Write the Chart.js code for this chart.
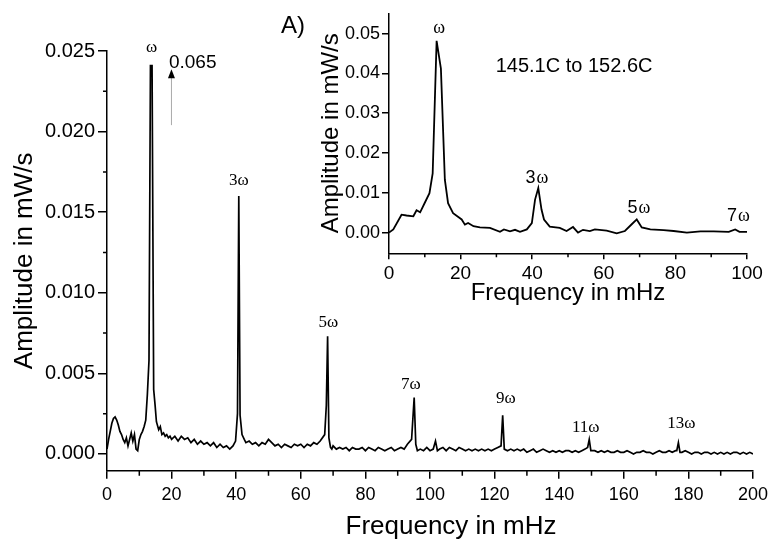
<!DOCTYPE html>
<html>
<head>
<meta charset="utf-8">
<script src="https://cdn.jsdelivr.net/npm/chart.js@4.4.1/dist/chart.umd.min.js"></script>
<style>
  html, body { margin: 0; padding: 0; background: #fff; }
  #wrap { position: relative; width: 777px; height: 541px; }
  #mainChart { position: absolute; left: 0; top: 0; }
  #insetChart { position: absolute; left: 300px; top: 0; }
</style>
</head>
<body>
<div id="wrap">
  <canvas id="mainChart" width="777" height="541"></canvas>
  <canvas id="insetChart" width="470" height="320"></canvas>
</div>
<script>
// ── Main spectrum (frequency in mHz, amplitude in mW/s) ──────────
const freqMain = [
  0, 0.5, 1, 1.5, 2, 2.5, 3, 3.5, 4, 4.5,
  5, 5.5, 6, 6.5, 7, 7.5, 8, 8.5, 9, 9.5,
  10, 10.5, 11, 11.5, 12, 12.5, 13, 13.45, 13.95, 14.45,
  14.9, 15.3, 16, 16.5, 17, 17.5, 18, 18.5, 19, 19.5,
  20, 21, 22, 23, 24, 25, 26, 27, 28, 29,
  30, 31, 32, 33, 34, 35, 36, 37, 38, 39,
  39.8, 40.4, 40.8, 41.2, 41.8, 42.5, 43, 44, 45, 46,
  47, 48, 49, 50, 51, 52, 53, 54, 55, 56,
  57, 58, 59, 60, 61, 62, 63, 64, 65, 66,
  67.4, 67.9, 68.3, 68.7, 69.2, 69.6, 70, 71, 72, 73,
  74, 75, 76, 77, 78, 79, 80, 81, 82, 83,
  84, 85, 86, 87, 88, 89, 90, 91, 92, 93,
  94.3, 95.1, 95.6, 96.1, 97, 98, 99, 100, 101, 101.7,
  102.3, 103, 104, 105, 106, 107, 108, 109, 110, 111,
  112, 113, 114, 115, 116, 117, 118, 119, 120, 121,
  122, 122.5, 123, 124, 125, 126, 127, 128, 129, 130,
  131, 132, 133, 134, 135, 136, 137, 138, 139, 140,
  141, 142, 143, 144, 145, 146, 147, 148, 148.8, 149.3,
  149.8, 151, 152, 153, 154, 155, 156, 157, 158, 159,
  160, 161, 162, 163, 164, 165, 166, 167, 168, 169,
  170, 171, 172, 173, 174, 175, 176, 176.4, 176.9, 177.4,
  178, 179, 180, 181, 182, 183, 184, 185, 186, 187,
  188, 189, 190, 191, 192, 193, 194, 195, 196, 197,
  198, 199, 200
];
const ampMain = [
  0.0003, 0.0009, 0.0014, 0.0019, 0.0022, 0.0023, 0.0021, 0.0018, 0.0014, 0.0012,
  0.0009, 0.0007, 0.0010, 0.0005, 0.0009, 0.0013, 0.0008, 0.0012, 0.0003, 0.0002,
  0.0009, 0.0012, 0.0014, 0.0017, 0.0021, 0.0037, 0.0058, 0.0241, 0.0241, 0.0040,
  0.0030, 0.0020, 0.0015, 0.0017, 0.0012, 0.0013, 0.0011, 0.0012, 0.0010, 0.0011,
  0.0009, 0.0011, 0.0008, 0.0011, 0.0009, 0.0010, 0.0007, 0.0009, 0.0006, 0.0008,
  0.0006, 0.0007, 0.0005, 0.0007, 0.0004, 0.0006, 0.0004, 0.0005, 0.0003, 0.0005,
  0.0008, 0.0025, 0.0160, 0.0024, 0.0012, 0.0009, 0.0007, 0.0008, 0.0006, 0.0007,
  0.0005, 0.0007, 0.0006, 0.0009, 0.0007, 0.0005, 0.0006, 0.0004, 0.0006, 0.0005,
  0.0004, 0.0006, 0.0005, 0.0006, 0.0004, 0.0006, 0.0005, 0.0007, 0.0006, 0.0008,
  0.0012, 0.0030, 0.0073, 0.0010, 0.0004, 0.0003, 0.0005, 0.0003, 0.0004, 0.0003,
  0.0004, 0.0002, 0.0004, 0.0003, 0.0003, 0.0004, 0.0002, 0.0004, 0.0003, 0.0002,
  0.0004, 0.0003, 0.0002, 0.0003, 0.0004, 0.0002, 0.0003, 0.0004, 0.0003, 0.0006,
  0.0009, 0.0035, 0.0006, 0.0002, 0.0003, 0.0002, 0.0004, 0.0002, 0.0003, 0.0008,
  0.0002, 0.0003, 0.0004, 0.0002, 0.0004, 0.0003, 0.0002, 0.0004, 0.0003, 0.0002,
  0.0003, 0.0002, 0.0003, 0.0002, 0.0003, 0.0002, 0.0003, 0.0002, 0.0003, 0.0004,
  0.0005, 0.0024, 0.0003, 0.0002, 0.0003, 0.0002, 0.0003, 0.0002, 0.0003, 0.0001,
  0.0002, 0.0003, 0.0001, 0.0002, 0.0003, 0.0002, 0.0001, 0.0002, 0.0001, 0.0002,
  0.0001, 0.0002, 0.0002, 0.0001, 0.0002, 0.0001, 0.0002, 0.0003, 0.0004, 0.0009,
  0.0002, 0.0002, 0.0001, 0.0002, 0.0001, 0.0002, 0.0001, 0.0001, 0.0002, 0.0001,
  0.0001, 0.0002, 0.0001, 0.0000, 0.0001, 0.0001, 0.0002, 0.0001, 0.0001, 0.0000,
  0.0001, 0.0002, 0.0001, 0.0001, 0.0002, 0.0001, 0.0002, 0.0002, 0.0007, 0.0001,
  0.0001, 0.0002, 0.0001, 0.0000, 0.0001, 0.0001, 0.0000, 0.0001, 0.0001, 0.0000,
  0.0001, 0.0000, 0.0001, 0.0000, 0.0001, 0.0000, 0.0001, 0.0001, 0.0000, 0.0001,
  0.0000, 0.0001, 0.0000
];

// ── Inset spectrum (145.1C to 152.6C) ────────────────────────────
const freqInset = [
  0, 1.2, 3.5, 4.9, 6.8, 7.7, 8.7, 10, 11.3, 12.2,
  13.3, 14.5, 15.6, 16.5, 17.9, 20.3, 21.2, 22.1, 23.6, 25.4,
  28.2, 31, 32.1, 33.8, 35.2, 36.6, 38.5, 39.9, 40.8, 41.7,
  42.6, 43.3, 44.9, 47.7, 49.6, 51.4, 52.8, 54.2, 56.1, 57.5,
  60.8, 63.6, 65.9, 67.8, 69.2, 70.6, 73, 76.7, 79.5, 83.2,
  87, 90.7, 94.9, 96.7, 97.9, 100
];
const ampInset = [
  0.0000, 0.0008, 0.0045, 0.0043, 0.0041, 0.0056, 0.0051, 0.0075, 0.0099, 0.0149,
  0.0482, 0.0412, 0.0133, 0.0074, 0.0049, 0.0033, 0.0020, 0.0024, 0.0016, 0.0013,
  0.0012, 0.0002, 0.0008, 0.0003, 0.0007, 0.0002, 0.0008, 0.0024, 0.0083, 0.0112,
  0.0058, 0.0033, 0.0015, 0.0012, 0.0004, 0.0014, 0.0000, 0.0007, 0.0004, 0.0008,
  0.0005, -0.0002, 0.0004, 0.0021, 0.0033, 0.0013, 0.0008, 0.0006, 0.0004, 0.0000,
  0.0003, 0.0003, 0.0002, 0.0008, 0.0002, 0.0002
];

// ── Tick labels ──────────────────────────────────────────────────
const mainXTickLabels = ['0', '20', '40', '60', '80', '100', '120', '140', '160', '180', '200'];
const mainYTickLabels = ['0.000', '0.005', '0.010', '0.015', '0.020', '0.025'];
const mainXMinor = [10, 30, 50, 70, 90, 110, 130, 150, 170, 190];
const mainYMinor = [0.0025, 0.0075, 0.0125, 0.0175, 0.0225];
const insetXTickLabels = ['0', '20', '40', '60', '80', '100'];
const insetYTickLabels = ['0.00', '0.01', '0.02', '0.03', '0.04', '0.05'];
const insetXMinor = [10, 30, 50, 70, 90];

// ── Harmonic labels (placed at frequency / amplitude of text baseline) ──
const mainPeakLabels = ['ω', '3ω', '5ω', '7ω', '9ω', '11ω', '13ω'];
const mainPeakLabelFreq = [13.8, 40.8, 68.5, 94.1, 123.5, 148.2, 177.8];
const mainPeakLabelAmp = [0.02496, 0.01669, 0.00790, 0.00403, 0.00318, 0.00136, 0.00161];
const insetPeakLabels = ['ω', '3ω', '5ω', '7ω'];
const insetPeakLabelFreq = [14, 41.3, 69.8, 97.6];
const insetPeakLabelAmp = [0.0501, 0.0125, 0.0050, 0.0029];

// clipped fundamental: true height noted with an arrow
const clippedLabel = '0.065';
const arrowFreq = 19.8;
const arrowAmp = [0.0204, 0.02386];

const SANS = '"Liberation Sans", Arial, Helvetica, sans-serif';
const SERIF = '"Liberation Serif", "Times New Roman", serif';

function minorTicks(ctx, scale, values, len) {
  ctx.save();
  ctx.strokeStyle = '#000';
  ctx.lineWidth = 1.5;
  ctx.beginPath();
  values.forEach(v => {
    const p = scale.getPixelForValue(v);
    if (scale.isHorizontal()) { ctx.moveTo(p, scale.top); ctx.lineTo(p, scale.top + len); }
    else { ctx.moveTo(scale.right, p); ctx.lineTo(scale.right - len, p); }
  });
  ctx.stroke();
  ctx.restore();
}

function axisCommon(size, tickLen, pad, labels) {
  return {
    ticks: {
      color: '#000', padding: pad, autoSkip: false, maxRotation: 0, includeBounds: false,
      font: { family: SANS, size },
      callback: (v, i) => labels[i],
    },
    grid: { drawOnChartArea: false, tickLength: tickLen, color: '#000', lineWidth: 1.5 },
    border: { display: true, color: '#000', width: 1.5 },
  };
}

const mainMarks = {
  id: 'mainMarks',
  afterDraw(chart) {
    const { ctx, chartArea } = chart;
    const x = chart.scales.x, y = chart.scales.y;
    minorTicks(ctx, x, mainXMinor, 5);
    minorTicks(ctx, y, mainYMinor, 4);
    ctx.save();
    ctx.fillStyle = '#000';
    ctx.textAlign = 'center';
    ctx.textBaseline = 'alphabetic';
    ctx.font = `17px ${SERIF}`;
    mainPeakLabels.forEach((t, i) => {
      ctx.fillText(t, x.getPixelForValue(mainPeakLabelFreq[i]), y.getPixelForValue(mainPeakLabelAmp[i]));
    });

    // arrow to the off-scale peak value
    const ax = x.getPixelForValue(arrowFreq);
    const y0 = y.getPixelForValue(arrowAmp[0]);
    const y1 = y.getPixelForValue(arrowAmp[1]);
    ctx.strokeStyle = '#aaa';
    ctx.lineWidth = 1;
    ctx.beginPath(); ctx.moveTo(ax + 0.5, y0); ctx.lineTo(ax + 0.5, y1 + 8); ctx.stroke();
    ctx.beginPath();
    ctx.moveTo(ax + 0.5, y1); ctx.lineTo(ax - 3, y1 + 9); ctx.lineTo(ax + 4, y1 + 9);
    ctx.closePath(); ctx.fill();
    ctx.font = `19px ${SANS}`;
    ctx.textAlign = 'left';
    ctx.fillText(clippedLabel, ax - 2, y.getPixelForValue(0.02393));

    ctx.textAlign = 'center';
    ctx.font = `24px ${SANS}`;
    ctx.fillText('A)', 293, 33);
    ctx.font = `26px ${SANS}`;
    ctx.fillText('Frequency in mHz', (chartArea.left + chartArea.right) / 2 + 21, chartArea.bottom + 63);
    ctx.restore();
  }
};

const insetMarks = {
  id: 'insetMarks',
  afterDraw(chart) {
    const { ctx } = chart;
    const x = chart.scales.x, y = chart.scales.y;
    minorTicks(ctx, x, insetXMinor, 4);
    ctx.save();
    ctx.fillStyle = '#000';
    ctx.textBaseline = 'alphabetic';
    ctx.textAlign = 'left';
    insetPeakLabels.forEach((t, i) => {
      const num = t.slice(0, -1);
      ctx.font = `18px ${SANS}`;
      const wNum = num ? ctx.measureText(num).width + 1 : 0;
      ctx.font = `18px ${SERIF}`;
      const wOm = ctx.measureText('ω').width;
      const px = x.getPixelForValue(insetPeakLabelFreq[i]) - (wNum + wOm) / 2;
      const py = y.getPixelForValue(insetPeakLabelAmp[i]);
      if (num) { ctx.font = `18px ${SANS}`; ctx.fillText(num, px, py); }
      ctx.font = `18px ${SERIF}`;
      ctx.fillText('ω', px + wNum, py);
    });
    ctx.textAlign = 'center';
    ctx.font = `20px ${SANS}`;
    ctx.fillText('145.1C to 152.6C', x.getPixelForValue(51.7), y.getPixelForValue(0.0404));
    ctx.restore();
  }
};

const mainX = axisCommon(18, 8, 6, mainXTickLabels);
const mainY = axisCommon(20, 9, 3, mainYTickLabels);
new Chart(document.getElementById('mainChart'), {
  type: 'line',
  data: {
    datasets: [{
      data: freqMain.map((f, i) => ({ x: f, y: ampMain[i] })),
      borderColor: '#000',
      borderWidth: 1.7,
      pointRadius: 0,
      tension: 0,
      fill: false,
    }],
  },
  options: {
    responsive: false,
    animation: false,
    events: [],
    layout: { padding: { top: 51, right: 24, left: 0, bottom: 0 } },
    plugins: { legend: { display: false }, tooltip: { enabled: false } },
    scales: {
      x: {
        type: 'linear', min: 0, max: 200,
        ...mainX,
        ticks: { ...mainX.ticks, stepSize: 20 },
        afterFit: s => { s.height = 70.3; },
      },
      y: {
        type: 'linear', min: -0.00104, max: 0.025,
        ...mainY,
        ticks: { ...mainY.ticks, stepSize: 0.005 },
        title: {
          display: true, text: 'Amplitude in mW/s', color: '#000',
          font: { family: SANS, size: 26 }, padding: { top: 9, bottom: 0 },
        },
        afterFit: s => { s.width = 107; },
      },
    },
  },
  plugins: [mainMarks],
});

const insetX = axisCommon(19, 6, 3, insetXTickLabels);
const insetY = axisCommon(18, 7, 2, insetYTickLabels);
new Chart(document.getElementById('insetChart'), {
  type: 'line',
  data: {
    datasets: [{
      data: freqInset.map((f, i) => ({ x: f, y: ampInset[i] })),
      borderColor: '#000',
      borderWidth: 1.8,
      pointRadius: 0,
      tension: 0,
      fill: false,
    }],
  },
  options: {
    responsive: false,
    animation: false,
    events: [],
    layout: { padding: { top: 13.3, right: 23, left: 0, bottom: 0 } },
    plugins: { legend: { display: false }, tooltip: { enabled: false } },
    scales: {
      x: {
        type: 'linear', min: 0, max: 100,
        ...insetX,
        ticks: { ...insetX.ticks, stepSize: 20 },
        title: {
          display: true, text: 'Frequency in mHz', color: '#000',
          font: { family: SANS, size: 24 }, padding: { top: 0, bottom: 12 },
        },
        afterFit: s => { s.height = 66.7; },
      },
      y: {
        type: 'linear', min: -0.0052, max: 0.0551,
        ...insetY,
        ticks: { ...insetY.ticks, stepSize: 0.01 },
        title: {
          display: true, text: 'Amplitude in mW/s', color: '#000',
          font: { family: SANS, size: 24 }, padding: { top: 17, bottom: 0 },
        },
        afterFit: s => { s.width = 89; },
      },
    },
  },
  plugins: [insetMarks],
});
</script>
</body>
</html>
